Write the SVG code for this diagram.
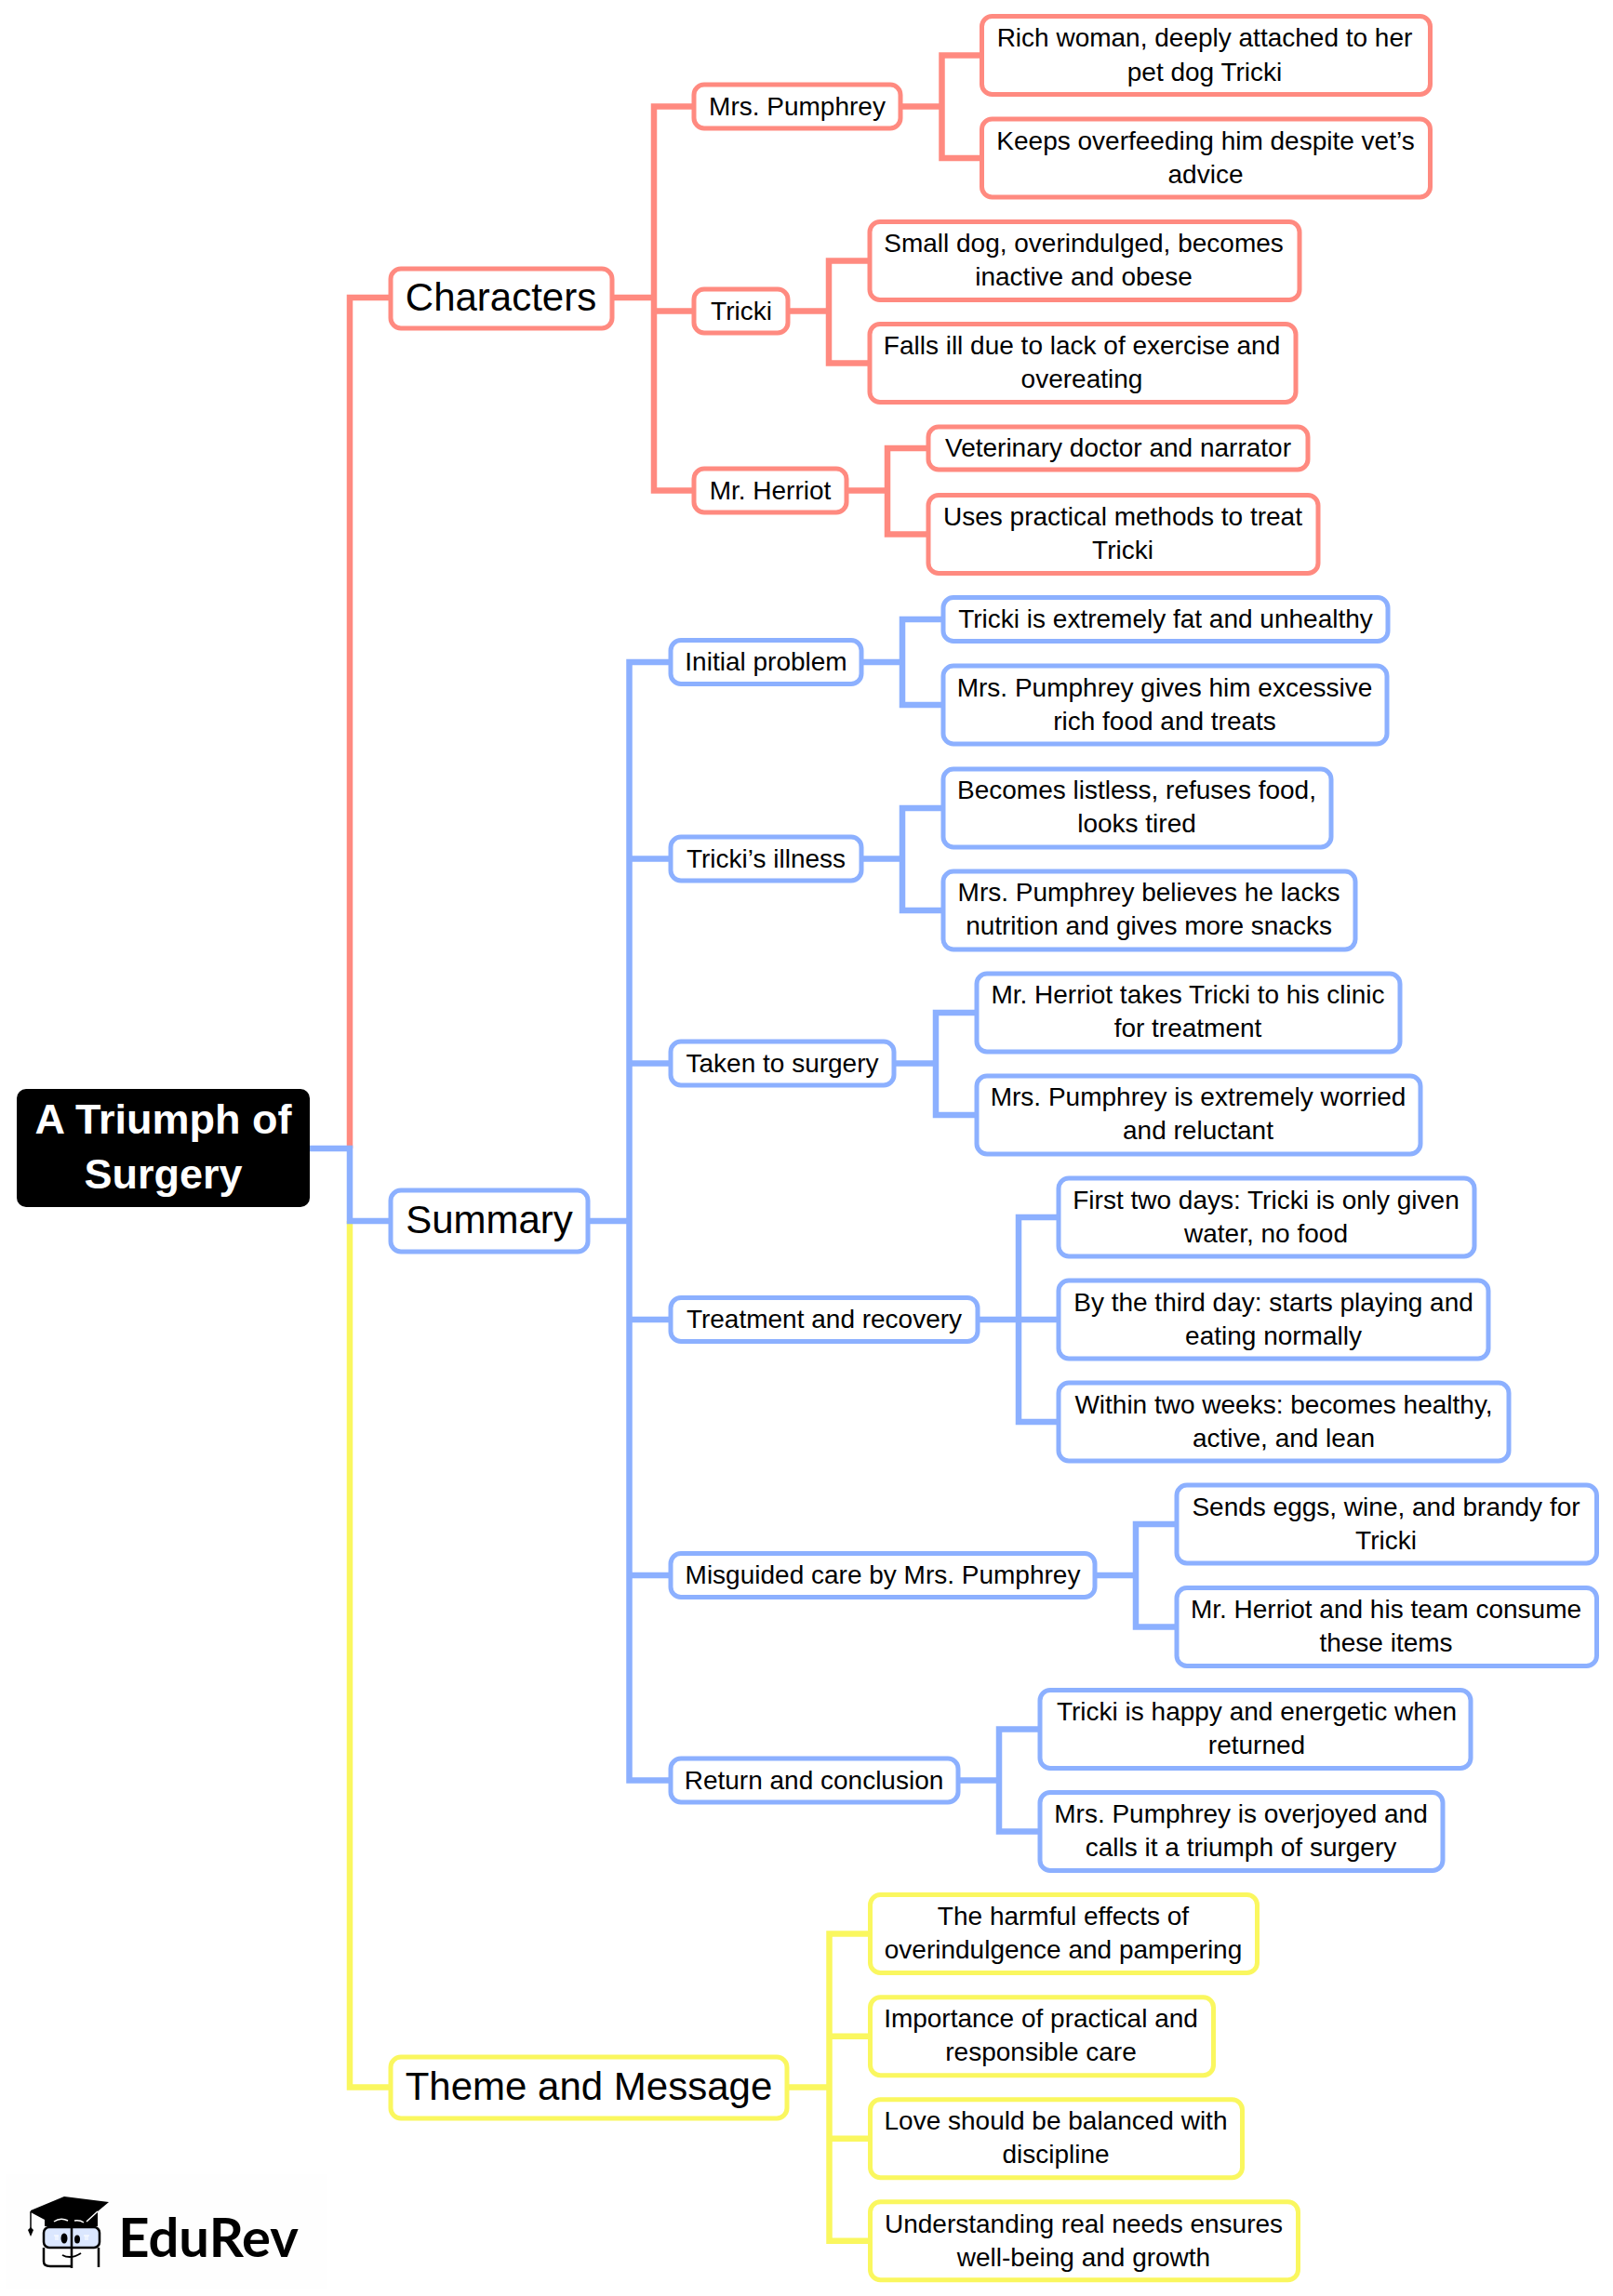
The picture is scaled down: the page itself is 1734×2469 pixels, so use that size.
<svg xmlns="http://www.w3.org/2000/svg" width="1734" height="2469" viewBox="0 0 1734 2469">
<style>
text{font-family:"Liberation Sans",Arial,sans-serif;text-anchor:middle;fill:#000;font-size:28px}
.b{fill:#fff;stroke-width:5}
.r .b,.cr{stroke:#FF8A80}.u .b,.cu{stroke:#8CB0FF}.y .b,.cy{stroke:#FAF75F}
.cr,.cu,.cy{fill:none;stroke-width:6.5;stroke-linejoin:miter}
.l1 text{font-size:42px}
#root text{font-size:45px;font-weight:700;fill:#fff}
</style>
<rect x="6" y="2338" width="346" height="124" fill="#fefefe"/>
<g id="connectors">
<path class="cr" d="M419 320H376V1235"/>
<path class="cy" d="M376 1313V2244.500H419"/>
<path class="cu" d="M333 1235H376V1313H419"/>
<path class="cr" d="M659 320H703M745 114.500H703V527.500H745M703 334.500H745"/>
<path class="cr" d="M970 114.500H1012.500M1055 59.500H1012.500V170H1055"/>
<path class="cr" d="M848 334.500H891M935 280.500H891V390.500H935"/>
<path class="cr" d="M910 527.500H954M998 482H954V574.500H998"/>
<path class="cu" d="M634 1313H676.500M721 712H676.500V1914.500H721M676.500 923.500H721M676.500 1143.500H721M676.500 1419H721M676.500 1694H721"/>
<path class="cu" d="M926 712H970M1014 666H970V758H1014"/>
<path class="cu" d="M926 923.500H970M1014 869H970V979H1014"/>
<path class="cu" d="M962 1143.500H1006M1050 1089H1006V1199H1050"/>
<path class="cu" d="M1052 1419H1138M1138 1309H1095V1529H1138"/>
<path class="cu" d="M1178 1694H1221M1265 1639H1221V1749.500H1265"/>
<path class="cu" d="M1031 1914.500H1074M1118 1859.500H1074V1969.500H1118"/>
<path class="cy" d="M848 2244.500H891.500M935 2079.500H891.500V2409.700H935M891.500 2189.700H935M891.500 2299.700H935"/>
</g>
<g id="root"><rect x="18" y="1171" width="315" height="127" rx="10" fill="#000"/><text x="175.500" y="1219">A Triumph of</text><text x="175.500" y="1278">Surgery</text></g>
<g class="r">
<g id="characters" class="l1"><rect class="b" x="420" y="289" width="238" height="64" rx="11"/><text x="538.500" y="334">Characters</text></g>
<g id="pumphrey"><rect class="b" x="746" y="91" width="222" height="47" rx="11"/><text x="857" y="124">Mrs. Pumphrey</text></g>
<g id="tricki"><rect class="b" x="746" y="311" width="101" height="47" rx="11"/><text x="797" y="344">Tricki</text></g>
<g id="herriot"><rect class="b" x="746" y="504" width="164" height="47" rx="11"/><text x="828" y="537">Mr. Herriot</text></g>
<g id="r1"><rect class="b" x="1055.500" y="17.500" width="482" height="84" rx="11"/><text x="1295" y="50">Rich woman, deeply attached to her</text><text x="1295" y="86.500">pet dog Tricki</text></g>
<g id="r2"><rect class="b" x="1055.500" y="128" width="482" height="84" rx="11"/><text x="1296" y="160.500">Keeps overfeeding him despite vet’s</text><text x="1296" y="196.500">advice</text></g>
<g id="r3"><rect class="b" x="935" y="238.500" width="462" height="84" rx="11"/><text x="1165" y="271">Small dog, overindulged, becomes</text><text x="1165" y="307">inactive and obese</text></g>
<g id="r4"><rect class="b" x="935" y="348.500" width="458" height="84" rx="11"/><text x="1163" y="381">Falls ill due to lack of exercise and</text><text x="1163" y="417">overeating</text></g>
<g id="r5"><rect class="b" x="998" y="459" width="408" height="46" rx="11"/><text x="1202" y="491">Veterinary doctor and narrator</text></g>
<g id="r6"><rect class="b" x="998" y="532.500" width="419" height="84" rx="11"/><text x="1207" y="565">Uses practical methods to treat</text><text x="1207" y="601">Tricki</text></g>
</g>
<g class="u">
<g id="summary" class="l1"><rect class="b" x="420" y="1280" width="212" height="66" rx="11"/><text x="526" y="1326">Summary</text></g>
<g id="s1"><rect class="b" x="721" y="688.500" width="205" height="47" rx="11"/><text x="823.500" y="721">Initial problem</text></g>
<g id="s2"><rect class="b" x="721" y="900" width="205" height="47" rx="11"/><text x="823.500" y="932.500">Tricki’s illness</text></g>
<g id="s3"><rect class="b" x="721" y="1120" width="240" height="47" rx="11"/><text x="841" y="1152.500">Taken to surgery</text></g>
<g id="s4"><rect class="b" x="721" y="1395.500" width="330" height="47" rx="11"/><text x="886" y="1428">Treatment and recovery</text></g>
<g id="s5"><rect class="b" x="721" y="1670.500" width="456" height="47" rx="11"/><text x="949" y="1703">Misguided care by Mrs. Pumphrey</text></g>
<g id="s6"><rect class="b" x="721" y="1891" width="309" height="47" rx="11"/><text x="875" y="1923.500">Return and conclusion</text></g>
<g id="u1"><rect class="b" x="1014" y="642.500" width="478" height="47" rx="11"/><text x="1253" y="675">Tricki is extremely fat and unhealthy</text></g>
<g id="u2"><rect class="b" x="1014" y="716" width="477" height="84" rx="11"/><text x="1252" y="748.500">Mrs. Pumphrey gives him excessive</text><text x="1252" y="784.500">rich food and treats</text></g>
<g id="u3"><rect class="b" x="1014" y="827" width="417" height="84" rx="11"/><text x="1222" y="859">Becomes listless, refuses food,</text><text x="1222" y="895">looks tired</text></g>
<g id="u4"><rect class="b" x="1014" y="937" width="443" height="84" rx="11"/><text x="1235" y="969">Mrs. Pumphrey believes he lacks</text><text x="1235" y="1005">nutrition and gives more snacks</text></g>
<g id="u5"><rect class="b" x="1050" y="1047" width="455" height="84" rx="11"/><text x="1277" y="1079">Mr. Herriot takes Tricki to his clinic</text><text x="1277" y="1115">for treatment</text></g>
<g id="u6"><rect class="b" x="1050" y="1157" width="477" height="84" rx="11"/><text x="1288" y="1189">Mrs. Pumphrey is extremely worried</text><text x="1288" y="1225">and reluctant</text></g>
<g id="u7"><rect class="b" x="1138" y="1267" width="447" height="84" rx="11"/><text x="1361" y="1299.500">First two days: Tricki is only given</text><text x="1361" y="1335.500">water, no food</text></g>
<g id="u8"><rect class="b" x="1138" y="1377" width="462" height="84" rx="11"/><text x="1369" y="1409.500">By the third day: starts playing and</text><text x="1369" y="1445.500">eating normally</text></g>
<g id="u9"><rect class="b" x="1138" y="1487" width="484" height="84" rx="11"/><text x="1380" y="1519.500">Within two weeks: becomes healthy,</text><text x="1380" y="1555.500">active, and lean</text></g>
<g id="u10"><rect class="b" x="1265" y="1597" width="451.500" height="84" rx="11"/><text x="1490" y="1630">Sends eggs, wine, and brandy for</text><text x="1490" y="1666">Tricki</text></g>
<g id="u11"><rect class="b" x="1265" y="1707.500" width="451.500" height="84" rx="11"/><text x="1490" y="1739.500">Mr. Herriot and his team consume</text><text x="1490" y="1775.500">these items</text></g>
<g id="u12"><rect class="b" x="1118" y="1817.500" width="463" height="84" rx="11"/><text x="1351" y="1850">Tricki is happy and energetic when</text><text x="1351" y="1886">returned</text></g>
<g id="u13"><rect class="b" x="1118" y="1927.500" width="433" height="84" rx="11"/><text x="1334" y="1960">Mrs. Pumphrey is overjoyed and</text><text x="1334" y="1996">calls it a triumph of surgery</text></g>
</g>
<g class="y">
<g id="theme" class="l1"><rect class="b" x="420" y="2212" width="426" height="66" rx="11"/><text x="633" y="2258">Theme and Message</text></g>
<g id="y1"><rect class="b" x="935.500" y="2037.500" width="416" height="84" rx="11"/><text x="1143" y="2070">The harmful effects of</text><text x="1143" y="2106">overindulgence and pampering</text></g>
<g id="y2"><rect class="b" x="935.500" y="2147.700" width="369" height="84" rx="11"/><text x="1119" y="2180">Importance of practical and</text><text x="1119" y="2216">responsible care</text></g>
<g id="y3"><rect class="b" x="935.500" y="2257.700" width="400" height="84" rx="11"/><text x="1135" y="2290">Love should be balanced with</text><text x="1135" y="2326">discipline</text></g>
<g id="y4"><rect class="b" x="935.500" y="2367.700" width="460" height="84" rx="11"/><text x="1165" y="2400.500">Understanding real needs ensures</text><text x="1165" y="2436.500">well-being and growth</text></g>
</g>
<g id="logo">
<path d="M33 2377L69 2362L117 2368L105 2378V2394H48V2387L33 2379Z" fill="#000"/>
<path d="M33 2378V2396" stroke="#000" stroke-width="1.500" fill="none"/>
<path d="M30 2398L33 2395L36 2398L33 2405Z" fill="#000"/>
<path d="M58 2389Q65 2384 73 2388M80 2388Q86 2387 90 2390M93 2389L105 2378" fill="none" stroke="#fff" stroke-width="1.500"/>
<rect x="47" y="2395" width="60" height="22" rx="6" fill="#dbe7ff" stroke="#000" stroke-width="2.500"/>
<path d="M47 2417V2432Q47 2437 54 2437H76M106 2417V2438M77 2393V2439" fill="none" stroke="#000" stroke-width="2.500"/>
<ellipse cx="69" cy="2407" rx="3.500" ry="5.500" fill="#000"/><ellipse cx="83" cy="2408" rx="3" ry="4.500" fill="#000"/>
<path d="M58 2404H63M60 2404V2409M62 2404V2409M90 2404H96M92 2404V2409M94 2404V2409" fill="none" stroke="#fff" stroke-width="1"/>
<path d="M67 2425Q76 2430 87 2423" fill="none" stroke="#000" stroke-width="2"/>
<text x="224" y="2427" style="font-family:Lato,sans-serif;font-size:58px;font-weight:700">EduRev</text>
</g>
</svg>
